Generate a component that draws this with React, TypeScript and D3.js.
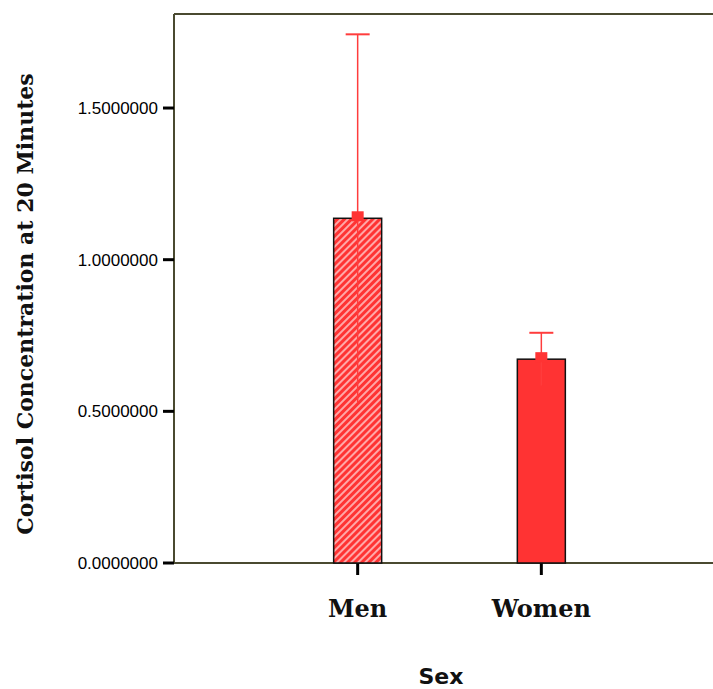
import React, { useEffect, useRef } from 'react';
import * as d3 from 'd3';

// data
const categories = ['Men', 'Women'];
const means = [1.1365, 0.672];
const upper = [1.743, 0.759];
const lower = [0.53, 0.585];
const yTicks = [0, 0.5, 1.0, 1.5];

const App = () => {
  const ref = useRef<SVGSVGElement | null>(null);

  useEffect(() => {
    const svg = d3.select(ref.current);
    svg.selectAll('*').remove();

    const left = 174;
    const top = 14;
    const bottom = 563;
    const right = 713;
    const red = '#ff3333';

    const x = d3.scalePoint<string>().domain(categories).range([left, 725]).padding(1);
    const y = d3.scaleLinear().domain([0, 1.81]).range([bottom, top]);

    // diagonal hatching for the Men bar
    const defs = svg.append('defs');
    const pat = defs
      .append('pattern')
      .attr('id', 'hatch')
      .attr('patternUnits', 'userSpaceOnUse')
      .attr('width', 5)
      .attr('height', 5)
      .attr('patternTransform', 'rotate(45)');
    pat.append('rect').attr('width', 5).attr('height', 5).attr('fill', red);
    pat
      .append('line')
      .attr('x1', 1).attr('y1', 0).attr('x2', 1).attr('y2', 5)
      .attr('stroke', '#ffe6e6')
      .attr('stroke-width', 1.3);

    // frame
    const frameColor = '#4a4a30';
    svg.append('line').attr('x1', left).attr('x2', left).attr('y1', top).attr('y2', bottom)
      .attr('stroke', frameColor).attr('stroke-width', 2);
    svg.append('line').attr('x1', left).attr('x2', right).attr('y1', top).attr('y2', top)
      .attr('stroke', frameColor).attr('stroke-width', 2);
    svg.append('line').attr('x1', left).attr('x2', right).attr('y1', bottom).attr('y2', bottom)
      .attr('stroke', frameColor).attr('stroke-width', 2);

    // y ticks
    const yAxis = svg.append('g');
    yTicks.forEach(t => {
      yAxis.append('line')
        .attr('x1', left - 11).attr('x2', left)
        .attr('y1', y(t)).attr('y2', y(t))
        .attr('stroke', '#000').attr('stroke-width', 3);
      yAxis.append('text')
        .attr('x', left - 16)
        .attr('y', y(t))
        .attr('dy', '0.36em')
        .attr('text-anchor', 'end')
        .style('font-family', 'Liberation Sans, Arial, sans-serif')
        .style('font-size', '17px')
        .attr('fill', '#000')
        .text(d3.format('.7f')(t));
    });

    // x ticks + labels
    categories.forEach(c => {
      svg.append('line')
        .attr('x1', x(c)!).attr('x2', x(c)!)
        .attr('y1', bottom).attr('y2', bottom + 12)
        .attr('stroke', '#000').attr('stroke-width', 3);
      svg.append('text')
        .attr('x', x(c)!)
        .attr('y', 617)
        .attr('text-anchor', 'middle')
        .style('font-family', 'DejaVu Serif, serif')
        .style('font-weight', 'bold')
        .style('font-size', '24px')
        .attr('fill', '#111')
        .text(c);
    });

    // bars
    const barW = 48;
    svg.selectAll('.bar')
      .data(categories)
      .enter()
      .append('rect')
      .attr('class', 'bar')
      .attr('x', d => x(d)! - barW / 2)
      .attr('y', (d, i) => y(means[i]))
      .attr('width', barW)
      .attr('height', (d, i) => bottom - y(means[i]))
      .attr('fill', (d, i) => (i === 0 ? 'url(#hatch)' : red))
      .attr('stroke', '#111')
      .attr('stroke-width', 1.5);

    // error bars
    const errColor = '#ff3c3c';
    const capW = 24;
    categories.forEach((c, i) => {
      const cx = x(c)!;
      svg.append('line')
        .attr('x1', cx).attr('x2', cx)
        .attr('y1', y(upper[i])).attr('y2', y(lower[i]))
        .attr('stroke', errColor).attr('stroke-width', 1.5);
      svg.append('line')
        .attr('x1', cx - capW / 2).attr('x2', cx + capW / 2)
        .attr('y1', y(upper[i])).attr('y2', y(upper[i]))
        .attr('stroke', errColor).attr('stroke-width', 2);
      svg.append('rect')
        .attr('x', cx - 6).attr('y', y(means[i]) - 7)
        .attr('width', 12).attr('height', 10)
        .attr('fill', red);
    });

    // axis titles
    svg.append('text')
      .attr('transform', `translate(33,304) rotate(-90)`)
      .attr('text-anchor', 'middle')
      .style('font-family', 'DejaVu Serif, serif')
      .style('font-weight', 'bold')
      .style('font-size', '22px')
      .attr('fill', '#111')
      .text('Cortisol Concentration at 20 Minutes');

    svg.append('text')
      .attr('x', 441)
      .attr('y', 684)
      .attr('text-anchor', 'middle')
      .style('font-family', 'DejaVu Sans, Verdana, sans-serif')
      .style('font-weight', 'bold')
      .style('font-size', '22px')
      .attr('fill', '#111')
      .text('Sex');
  }, []);

  return (
    <svg
      ref={ref}
      width={713}
      height={689}
      style={{ position: 'absolute', left: 0, top: 0, background: '#fff' }}
    />
  );
};

export default App;
